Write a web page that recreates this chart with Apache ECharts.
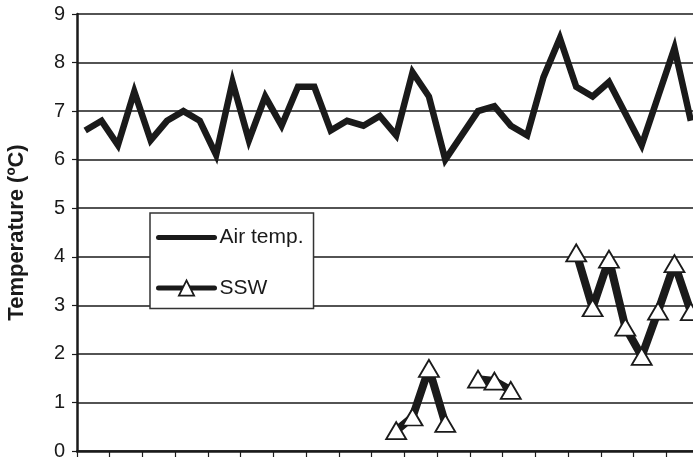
<!DOCTYPE html>
<html>
<head>
<meta charset="utf-8">
<script src="https://cdn.jsdelivr.net/npm/echarts@6/dist/echarts.min.js"></script>
<style>
  html, body { margin: 0; padding: 0; background: #fff; }
  #chart { width: 693px; height: 458px; }
</style>
</head>
<body>
<div id="chart"></div>
<script>
// Sampling days along the x axis
const days = Array.from({ length: 38 }, (_, i) => String(i + 1));

// Daily air temperature (°C)
const airTemp = [
  6.6, 6.8, 6.3, 7.4, 6.4, 6.8, 7.0, 6.8, 6.1, 7.6,
  6.4, 7.3, 6.7, 7.5, 7.5, 6.6, 6.8, 6.7, 6.9, 6.5,
  7.8, 7.3, 6.0, 6.5, 7.0, 7.1, 6.7, 6.5, 7.7, 8.5,
  7.5, 7.3, 7.6, 6.95, 6.3, 7.3, 8.3, 6.8
];

// SSW temperature (°C); null where no measurement was taken
const ssw = [
  null, null, null, null, null, null, null, null, null, null,
  null, null, null, null, null, null, null, null, null, 0.42,
  0.7, 1.7, 0.57, null, 1.48, 1.44, 1.25, null, null, null,
  4.08, 2.95, 3.95, 2.55, 1.95, 2.88, 3.86, 2.87
];

const yTicks = [0, 1, 2, 3, 4, 5, 6, 7, 8, 9];

const FONT = 'Liberation Sans, Arial, sans-serif';
const INK = '#1a1a1a';

const chart = echarts.init(document.getElementById('chart'), null, { renderer: 'canvas' });

chart.setOption({
  animation: false,
  backgroundColor: '#ffffff',
  textStyle: { fontFamily: FONT },
  grid: { left: 77, top: 14, right: -6, bottom: 7, containLabel: false, outerBoundsMode: 'none' },
  legend: {
    left: 150,
    top: 213,
    orient: 'vertical',
    backgroundColor: '#ffffff',
    borderColor: '#333333',
    borderWidth: 1.5,
    borderRadius: 0,
    padding: [14, 10, 10, 6],
    itemWidth: 56,
    itemHeight: 19,
    itemGap: 29.5,
    lineStyle: { width: 5, cap: 'round' },
    textStyle: { fontSize: 21, color: INK, fontFamily: FONT, lineHeight: 19 },
    data: [
      { name: 'Air temp.', itemStyle: { color: 'rgba(0,0,0,0)', borderWidth: 0 } },
      { name: 'SSW', itemStyle: { borderWidth: 1.8 } }
    ]
  },
  xAxis: {
    type: 'category',
    data: days,
    boundaryGap: true,
    axisLine: { lineStyle: { color: INK, width: 2.5 } },
    axisTick: { show: true, length: 6, inside: false, lineStyle: { color: INK, width: 1.2 } },
    axisLabel: { show: false },
    splitLine: { show: false }
  },
  yAxis: {
    type: 'value',
    min: yTicks[0],
    max: yTicks[yTicks.length - 1],
    interval: 1,
    name: 'Temperature (ºC)',
    nameLocation: 'middle',
    nameGap: 49,
    nameTextStyle: { fontSize: 22, fontWeight: 'bold', color: INK, fontFamily: FONT },
    axisLine: { show: true, lineStyle: { color: INK, width: 2.5 } },
    axisTick: { show: true, length: 5, lineStyle: { color: INK, width: 1.2 } },
    axisLabel: { fontSize: 20, color: INK, margin: 12, fontFamily: FONT },
    splitLine: { show: true, lineStyle: { color: INK, width: 1.5 } }
  },
  series: [
    {
      name: 'Air temp.',
      type: 'line',
      data: airTemp,
      symbol: 'none',
      lineStyle: { color: INK, width: 6.5, join: 'miter' },
      itemStyle: { color: INK },
      z: 3
    },
    {
      name: 'SSW',
      type: 'line',
      data: ssw,
      connectNulls: false,
      symbol: 'triangle',
      symbolSize: [20, 17],
      showSymbol: true,
      showAllSymbol: true,
      lineStyle: { color: INK, width: 8 },
      itemStyle: { color: '#ffffff', borderColor: INK, borderWidth: 1.8 },
      z: 4
    }
  ]
});
</script>
</body>
</html>
